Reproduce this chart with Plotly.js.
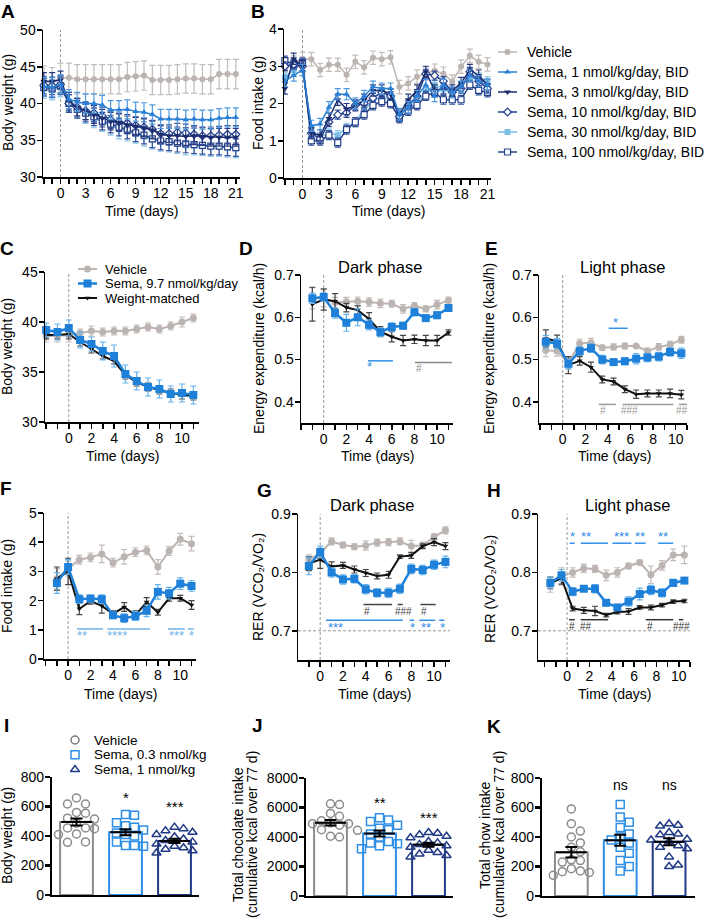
<!DOCTYPE html>
<html>
<head>
<meta charset="utf-8">
<script src="https://cdn.plot.ly/plotly-3.0.1.min.js"></script>
<style>
  body { margin: 0; background: #fff; }
  #chart { width: 705px; height: 920px; }
</style>
</head>
<body>
<div id="chart"></div>
<script>
// ---------- data ----------
// A / B: dose response, days -2..21
const daysAB = [-2,-1,0,1,2,3,4,5,6,7,8,9,10,11,12,13,14,15,16,17,18,19,20,21];
const bwVeh  = [43.1,42.9,43.5,43.5,43.3,43.3,43.3,43.3,43.3,43.3,43.6,43.7,43.8,43.2,43.2,43.2,43.3,43.4,43.4,43.3,43.3,44.0,44.0,44.0];
const bwS1   = [42.3,42.2,42.6,40.6,40.2,40.0,40.0,39.8,39.1,39.1,39.2,38.9,38.8,38.5,37.9,37.9,37.9,37.8,37.9,37.8,37.8,38.0,38.1,38.1];
const bwS3   = [43.0,43.0,43.2,40.3,39.5,39.0,38.5,38.0,37.6,37.4,37.1,36.9,36.7,36.4,35.8,35.6,35.6,35.5,35.6,35.5,35.4,35.4,35.4,35.4];
const bwS10  = [42.5,42.4,42.6,40.0,39.5,39.0,38.7,38.3,37.8,37.5,37.3,37.0,36.8,36.5,35.9,35.9,36.1,36.0,35.8,35.6,35.6,35.7,35.8,35.8];
const bwS30  = [42.0,41.8,42.2,40.2,39.3,38.6,38.0,37.5,37.0,36.5,36.2,35.9,35.5,35.1,34.8,34.7,34.5,34.3,34.3,34.2,34.1,34.1,34.0,33.9];
const bwS100 = [42.2,42.0,42.4,40.0,39.2,38.7,38.2,37.6,37.2,36.8,36.4,36.0,35.7,35.2,34.9,34.8,34.6,34.5,34.4,34.3,34.2,34.2,34.1,34.0];
const semA = { veh: 2.0, s1: 1.3, s3: 1.2, s10: 1.2, s30: 1.3, s100: 1.2 };

const fiVeh  = [2.9,3.1,3.2,3.19,2.9,3.04,3.04,2.77,3.12,2.97,3.23,3.19,3.24,2.44,2.54,2.72,2.81,2.88,2.8,2.59,2.99,3.28,3.12,3.05];
const fiS1   = [2.6,2.75,2.9,1.4,1.45,1.9,2.25,2.25,2.0,2.2,2.45,2.4,2.4,1.7,1.9,2.2,2.5,2.2,2.5,2.3,2.45,2.75,2.6,2.5];
const fiS3   = [2.4,3.2,3.0,1.2,1.15,1.6,2.1,1.85,1.95,2.1,2.35,2.35,2.25,1.7,2.1,2.35,2.85,2.35,2.4,2.35,2.55,2.9,2.75,2.5];
const fiS10  = [3.0,3.05,3.0,1.2,1.05,1.5,1.7,1.75,1.95,2.0,2.15,2.3,2.2,1.65,1.95,2.2,2.8,2.75,2.6,2.3,2.4,2.85,2.6,2.4];
const fiS30  = [2.7,2.9,3.1,1.3,1.1,1.2,1.15,1.35,1.5,1.85,2.05,2.2,2.1,1.75,1.85,2.0,2.3,2.5,2.4,2.25,2.45,2.7,2.7,2.6];
const fiS100 = [3.15,3.05,3.1,1.0,1.0,1.15,0.95,1.3,1.5,1.7,1.95,2.05,2.0,1.6,1.8,1.95,2.2,2.3,2.1,2.1,2.1,2.5,2.35,2.3];
const semB = { veh: 0.18, s1: 0.15, s3: 0.15, s10: 0.12, s30: 0.12, s100: 0.12 };

// C: body weight, days -2..11
const daysC = [-2,-1,0,1,2,3,4,5,6,7,8,9,10,11];
const cVeh  = [38.6,38.6,38.7,38.9,39.1,39.0,39.1,39.1,39.3,39.5,39.3,39.6,40.0,40.4];
const cSema = [39.2,39.0,39.4,38.2,37.8,37.1,36.6,34.8,34.1,33.5,33.3,32.8,32.9,32.7];
const cWM   = [38.7,38.7,38.8,38.0,37.3,36.6,36.1,34.7,34.0,33.5,33.2,32.9,32.7,32.6];
const cVehE  = [0.6,0.6,0.7,0.4,0.5,0.4,0.4,0.4,0.4,0.4,0.4,0.4,0.5,0.4];
const cSemaE = [0.7,0.8,0.8,0.8,0.7,0.9,1.1,0.9,0.9,0.9,0.9,0.8,0.9,0.9];
const cWME   = [0.4,0.4,0.5,0.4,0.4,0.3,0.3,0.4,0.4,0.4,0.4,0.4,0.4,0.4];

// D-H: dark phase at whole days, light phase at half days
const daysDark  = [-1,0,1,2,3,4,5,6,7,8,9,10,11];
const daysLight = [-1.5,-0.5,0.5,1.5,2.5,3.5,4.5,5.5,6.5,7.5,8.5,9.5,10.5];

const dVeh  = [0.645,0.645,0.635,0.637,0.638,0.636,0.633,0.632,0.620,0.627,0.620,0.630,0.640];
const dSema = [0.645,0.648,0.610,0.587,0.600,0.582,0.565,0.577,0.580,0.612,0.598,0.605,0.622];
const dWM   = [0.631,0.642,0.638,0.623,0.617,0.596,0.566,0.554,0.545,0.548,0.545,0.545,0.564];
const dVehE  = [0.025,0.02,0.012,0.01,0.01,0.01,0.01,0.008,0.01,0.008,0.007,0.01,0.008];
const dSemaE = [0.012,0.01,0.012,0.02,0.02,0.012,0.01,0.01,0.008,0.008,0.008,0.008,0.008];
const dWME   = [0.04,0.025,0.018,0.01,0.01,0.015,0.012,0.012,0.012,0.01,0.012,0.012,0.006];

const eVeh  = [0.522,0.520,0.492,0.538,0.540,0.528,0.530,0.532,0.532,0.520,0.530,0.535,0.547];
const eSema = [0.542,0.538,0.490,0.520,0.527,0.500,0.494,0.496,0.502,0.505,0.507,0.518,0.515];
const eWM   = [0.550,0.543,0.487,0.497,0.482,0.453,0.448,0.430,0.418,0.420,0.420,0.420,0.417];
const eVehE  = [0.015,0.012,0.012,0.01,0.01,0.006,0.007,0.007,0.003,0.007,0.008,0.008,0.008];
const eSemaE = [0.015,0.012,0.012,0.01,0.01,0.01,0.005,0.008,0.012,0.01,0.01,0.01,0.012];
const eWME   = [0.02,0.015,0.02,0.01,0.012,0.008,0.008,0.008,0.01,0.008,0.008,0.01,0.01];

const fVeh  = [2.75,3.10,3.40,3.48,3.60,3.30,3.50,3.66,3.72,3.15,3.70,4.10,3.95];
const fSema = [2.60,3.15,2.05,2.07,2.05,1.50,1.40,1.47,1.65,2.30,2.25,2.58,2.50];
const fWM   = [2.75,3.00,1.72,1.98,1.82,1.55,1.78,1.50,1.95,1.60,2.08,2.08,1.85];
const fVehE  = [0.35,0.25,0.15,0.15,0.3,0.15,0.25,0.15,0.15,0.25,0.15,0.2,0.25];
const fSemaE = [0.35,0.25,0.15,0.12,0.15,0.12,0.15,0.15,0.2,0.25,0.2,0.2,0.18];
const fWME   = [0.4,0.45,0.2,0.1,0.25,0.1,0.15,0.15,0.15,0.1,0.1,0.1,0.15];

const gVeh  = [0.822,0.833,0.853,0.847,0.844,0.846,0.851,0.852,0.853,0.845,0.846,0.861,0.872];
const gSema = [0.811,0.835,0.800,0.788,0.789,0.771,0.765,0.765,0.772,0.806,0.804,0.813,0.818];
const gWM   = [0.815,0.822,0.810,0.812,0.805,0.799,0.794,0.796,0.827,0.829,0.845,0.852,0.845];
const gVehE  = [0.008,0.008,0.006,0.005,0.005,0.008,0.006,0.006,0.006,0.01,0.006,0.005,0.006];
const gSemaE = [0.015,0.01,0.008,0.008,0.007,0.008,0.007,0.008,0.008,0.008,0.008,0.008,0.01];
const gWME   = [0.012,0.015,0.008,0.005,0.006,0.006,0.005,0.006,0.003,0.005,0.004,0.006,0.006];

const hVeh  = [0.778,0.793,0.800,0.807,0.806,0.795,0.800,0.811,0.817,0.796,0.812,0.830,0.830];
const hSema = [0.782,0.795,0.767,0.772,0.772,0.748,0.740,0.750,0.763,0.770,0.765,0.782,0.786];
const hWM   = [0.782,0.790,0.738,0.735,0.734,0.727,0.732,0.733,0.740,0.740,0.744,0.750,0.751];
const hVehE  = [0.012,0.015,0.008,0.007,0.006,0.009,0.008,0.005,0.004,0.015,0.008,0.01,0.015];
const hSemaE = [0.01,0.01,0.007,0.004,0.007,0.005,0.004,0.008,0.01,0.008,0.007,0.006,0.004];
const hWME   = [0.01,0.01,0.004,0.005,0.008,0.003,0.003,0.005,0.003,0.004,0.003,0.003,0.003];

// significance bars: [from, to, label x, label]
const sigDblue = [[3.9, 6.1, 4.0, "*"]];
const sigDgray = [[8.05, 11.3, 8.4, "#"]];
const sigEblue = [[4.07, 5.75, 4.66, "*"]];
const sigEgray = [[3.2, 4.7, 3.55, "#"], [5.3, 9.8, 5.9, "###"], [10.3, 11, 10.6, "##"]];
const sigFblue = [[0.8, 3.1, 1.25, "**"], [3.5, 7.3, 4.4, "****"], [8.9, 10.4, 9.7, "***"], [10.7, 11.2, 11.0, "*"]];
const sigGblack = [[3.8, 6.3, 4.1, "#"], [6.8, 7.25, 7.3, "###"], [8.8, 10.15, 9.1, "#"]];
const sigGblue  = [[0.5, 7.25, 1.3, "***"], [7.85, 8.25, 8.1, "*"], [8.7, 10.1, 9.3, "**"], [10.45, 10.9, 10.7, "*"]];
const sigHblue  = [[0.24, 0.69, 0.48, "*"], [1.22, 3.67, 1.73, "**"], [4.06, 5.76, 4.87, "***"], [6.06, 7.04, 6.5, "**"], [8.15, 9.5, 8.54, "**"]];
const sigHblack = [[0.18, 0.69, 0.48, "#"], [1.22, 3.67, 1.67, "##"], [7.04, 9.5, 7.4, "#"], [10.0, 10.4, 10.2, "###"]];

// I-K: individual animals
const iVeh = [658,617,617,560,555,521,515,487,450,455,455,414,410,357,360];
const iS03 = [545,540,490,470,460,440,420,410,400,360,335,335,330];
const iS1  = [460,450,435,425,410,395,380,370,360,345,330,320,310,300,290,285];
const jVeh = [6250,6200,5600,5400,5100,4950,4900,4900,4800,4500,4450,4400,4050,4000];
const jS03 = [5300,5150,5050,4800,4600,4500,4200,4000,3700,3600,3550,3400,3200];
const jS1  = [4300,4250,4150,4050,3950,3700,3600,3500,3400,3300,3200,3100,2950,2850,2750,2650];
const kVeh = [590,490,440,400,360,330,300,245,240,230,185,170,165,160,140];
const kS03 = [620,535,500,465,420,400,380,360,330,290,240,200,170];
const kS1  = [490,480,475,430,420,415,385,380,370,340,330,320,265,210,200];
const sigI = ["", "*", "***"], sigIy = [0, 663, 602];
const sigJ = ["", "**", "***"], sigJy = [0, 6370, 5355];
const sigK = ["", "ns", "ns"], sigKy = [0, 752, 752];

// ---------- figure ----------
const W = 705, H = 920;
const FONT = "Liberation Sans, Arial, sans-serif";
const data = [], shapes = [], annotations = [];
const layout = {
  width: W, height: H, margin: { l: 0, r: 0, t: 0, b: 0 },
  paper_bgcolor: "#fff", plot_bgcolor: "rgba(0,0,0,0)",
  font: { family: FONT, size: 14, color: "#000" },
  showlegend: false, barmode: "overlay", shapes, annotations
};

const GRAY = "#bcb4b1", BLUE = "#1e80d8", BLACK = "#111";
const ST = {
  veh:  { color: GRAY, symbol: "circle", size: 7, ecolor: "#c3bcb9", lw: 2 },
  sema: { color: BLUE, symbol: "square", size: 8, ecolor: "#62b0ea", lw: 2.5 },
  wm:   { color: BLACK, symbol: "triangle-down", size: 5, ecolor: "#444", lw: 2 },
  aVeh:  { color: GRAY, symbol: "circle", size: 6, ecolor: "#c3bcb9", lw: 1.5 },
  aS1:   { color: "#2b80d6", symbol: "triangle-up", size: 6, ecolor: "#4f9ae0", lw: 1.5 },
  aS3:   { color: "#1b2c6e", symbol: "triangle-down", size: 6, ecolor: "#2a3c80", lw: 1.5 },
  aS10:  { color: "#223f8e", symbol: "diamond", fill: "#fff", mlw: 1.2, size: 6, ecolor: "#34509c", lw: 1.5 },
  aS30:  { color: "#7dbee4", symbol: "square", size: 6, ecolor: "#8cc6e8", lw: 1.5 },
  aS100: { color: "#23408a", symbol: "square", fill: "#fff", mlw: 1.2, size: 6, ecolor: "#34509c", lw: 1.5 }
};

function sfx(id) { return id === 1 ? "" : String(id); }

function addAxes(id, box, xr, yr, xo, yo, lw) {
  const s = sfx(id), w = lw || 1.5;
  const common = {
    showline: true, linecolor: "#000", linewidth: w, showgrid: false, zeroline: false,
    ticks: "outside", ticklen: 5, tickwidth: w, tickcolor: "#000", fixedrange: true,
    tickfont: { size: 14 }
  };
  layout["xaxis" + s] = Object.assign({}, common,
    { domain: [box[0] / W, box[1] / W], range: xr, anchor: "y" + s, ticklabelstandoff: -2 }, xo);
  layout["yaxis" + s] = Object.assign({}, common,
    { domain: [1 - box[3] / H, 1 - box[2] / H], range: yr, anchor: "x" + s, ticklabelstandoff: -2 }, yo);
}

// labelled ticks every `step` days from 0, plain ticks on the other days
function dayTicks(from, to, step) {
  const major = [], minor = [];
  for (let v = from; v <= to; v++) {
    if (v >= 0 && v % step === 0) major.push(v); else minor.push(v);
  }
  return {
    tickmode: "array", tickvals: major, ticktext: major.map(String),
    minor: { tickmode: "array", tickvals: minor, ticks: "outside", ticklen: 5, tickwidth: 1.5, tickcolor: "#000" }
  };
}

function series(id, x, y, err, st) {
  const s = sfx(id);
  const errs = Array.isArray(err) ? err : y.map(() => err);
  data.push({
    type: "scatter", mode: "lines+markers", x, y, xaxis: "x" + s, yaxis: "y" + s,
    line: { color: st.color, width: st.lw },
    marker: { symbol: st.symbol, size: st.size, color: st.fill || st.color,
              line: { color: st.color, width: st.mlw || 0 } },
    error_y: { type: "data", array: errs, visible: true, color: st.ecolor, thickness: 1.2, width: 3 },
    cliponaxis: false, hoverinfo: "skip"
  });
}

function dayZero(id) {
  const s = sfx(id);
  shapes.push({ type: "line", xref: "x" + s, yref: "y" + s + " domain", x0: 0, x1: 0, y0: 0, y1: 1,
    line: { color: "#999", width: 1, dash: "3px,2px" }, layer: "below" });
}

function hDash(id, yv) {
  const s = sfx(id);
  shapes.push({ type: "line", xref: "x" + s + " domain", yref: "y" + s, x0: 0, x1: 1, y0: yv, y1: yv,
    line: { color: "#999", width: 1, dash: "3px,2px" }, layer: "below" });
}

function sigBars(id, items, color, ly, ty) {
  const s = sfx(id);
  items.forEach(([x0, x1, tx, t]) => {
    shapes.push({ type: "line", xref: "x" + s, yref: "y" + s, x0, x1, y0: ly, y1: ly,
      line: { color, width: 1.5 } });
    annotations.push({ xref: "x" + s, yref: "y" + s, x: tx, y: ty, text: t, showarrow: false,
      font: { size: t.includes("#") ? 10 : 13, color } });
  });
}

function txt(text, px, py, o) {
  annotations.push(Object.assign({
    xref: "paper", yref: "paper", x: px / W, y: 1 - py / H, text, showarrow: false,
    xanchor: "center", yanchor: "middle", font: { size: 14 }
  }, o || {}));
}

// ---- A ----
addAxes(1, [43, 240, 30, 177], [-2.1, 21.5], [30, 50], dayTicks(-2, 21, 3), { dtick: 5, tick0: 30 });
dayZero(1);
series(1, daysAB, bwVeh, semA.veh, ST.aVeh);
series(1, daysAB, bwS30, semA.s30, ST.aS30);
series(1, daysAB, bwS100, semA.s100, ST.aS100);
series(1, daysAB, bwS10, semA.s10, ST.aS10);
series(1, daysAB, bwS3, semA.s3, ST.aS3);
series(1, daysAB, bwS1, semA.s1, ST.aS1);

// ---- B ----
addAxes(2, [284, 491, 29, 178], [-2.1, 21.4], [0, 4], dayTicks(-2, 21, 3), { dtick: 1, tick0: 0 });
dayZero(2);
series(2, daysAB, fiVeh, semB.veh, ST.aVeh);
series(2, daysAB, fiS30, semB.s30, ST.aS30);
series(2, daysAB, fiS100, semB.s100, ST.aS100);
series(2, daysAB, fiS10, semB.s10, ST.aS10);
series(2, daysAB, fiS3, semB.s3, ST.aS3);
series(2, daysAB, fiS1, semB.s1, ST.aS1);

// ---- C ----
addAxes(3, [45, 199, 272, 422], [-2.1, 11.5], [30, 45], dayTicks(-2, 11, 2), { dtick: 5, tick0: 30 });
dayZero(3);
series(3, daysC, cVeh, cVehE, ST.veh);
series(3, daysC, cWM, cWME, ST.wm);
series(3, daysC, cSema, cSemaE, ST.sema);

// ---- D ----
const eeTicks = { tickmode: "array", tickvals: [0.4, 0.5, 0.6, 0.7] };
addAxes(4, [301, 453, 275, 423], [-2, 11.4], [0.35, 0.7], dayTicks(-2, 11, 2), eeTicks);
dayZero(4);
series(4, daysDark, dVeh, dVehE, ST.veh);
series(4, daysDark, dWM, dWME, ST.wm);
series(4, daysDark, dSema, dSemaE, ST.sema);
sigBars(4, sigDblue, "#2f8ee6", 0.497, 0.484);
sigBars(4, sigDgray, "#8a8a8a", 0.493, 0.478);

// ---- E ----
addAxes(5, [539, 687, 275, 423], [-2.1, 11], [0.35, 0.7], dayTicks(-2, 11, 2), eeTicks);
dayZero(5);
series(5, daysLight, eVeh, eVehE, ST.veh);
series(5, daysLight, eWM, eWME, ST.wm);
series(5, daysLight, eSema, eSemaE, ST.sema);
sigBars(5, sigEblue, "#2f8ee6", 0.574, 0.588);
sigBars(5, sigEgray, "#9a9a9a", 0.394, 0.379);

// ---- F ----
addAxes(6, [44, 196, 513, 659], [-2.15, 11.4], [0, 5], dayTicks(-2, 11, 2), { dtick: 1, tick0: 0 });
dayZero(6);
series(6, daysDark, fVeh, fVehE, ST.veh);
series(6, daysDark, fWM, fWME, ST.wm);
series(6, daysDark, fSema, fSemaE, ST.sema);
sigBars(6, sigFblue, "#6fb3ea", 1.03, 0.81);

// ---- G ----
const rerTicks = { tickmode: "array", tickvals: [0.7, 0.8, 0.9] };
addAxes(7, [298, 450, 514, 660], [-1.95, 11.4], [0.65, 0.9], dayTicks(-1, 11, 2), rerTicks);
dayZero(7);
hDash(7, 0.7);
series(7, daysDark, gVeh, gVehE, ST.veh);
series(7, daysDark, gWM, gWME, ST.wm);
series(7, daysDark, gSema, gSemaE, ST.sema);
sigBars(7, sigGblack, "#444", 0.745, 0.733);
sigBars(7, sigGblue, "#2f8ee6", 0.718, 0.706);

// ---- H ----
addAxes(8, [538, 690, 514, 660], [-2.6, 11], [0.65, 0.9], dayTicks(-2, 11, 2), rerTicks);
dayZero(8);
hDash(8, 0.7);
series(8, daysLight, hVeh, hVehE, ST.veh);
series(8, daysLight, hWM, hWME, ST.wm);
series(8, daysLight, hSema, hSemaE, ST.sema);
sigBars(8, sigHblue, "#2f8ee6", 0.85, 0.861);
sigBars(8, sigHblack, "#333", 0.719, 0.707);

// ---- I, J, K ----
const barStyle = [
  { color: "#8c8c8c", symbol: "circle-open" },
  { color: "#2f8fe6", symbol: "square-open" },
  { color: "#213a85", symbol: "triangle-up-open" }
];
const mean = (a) => a.reduce((s, v) => s + v, 0) / a.length;
const sem = (a) => {
  const m = mean(a);
  return Math.sqrt(a.reduce((s, v) => s + (v - m) * (v - m), 0) / (a.length - 1)) / Math.sqrt(a.length);
};

// simple beeswarm: offsets in px so that markers of diameter d do not overlap
function swarm(vals, pxPerUnit, d) {
  const order = vals.map((v, i) => i).sort((a, b) => vals[b] - vals[a]);
  const placed = [], off = new Array(vals.length).fill(0);
  order.forEach((i) => {
    const y = vals[i] * pxPerUnit;
    for (let k = 0; k < 30; k++) {
      const o = k === 0 ? 0 : (k % 2 ? 1 : -1) * Math.ceil(k / 2) * d;
      if (placed.every((p) => Math.hypot(p.x - o, p.y - y) >= d - 0.5)) {
        off[i] = o; placed.push({ x: o, y }); break;
      }
    }
  });
  return off;
}

function barPanel(id, groups, box, ymax, dtick, labels, labelY, xr) {
  const s = sfx(id);
  addAxes(id, box, xr, [0, ymax],
    { showticklabels: false, ticks: "" }, { dtick, tick0: 0 }, 2.2);
  const pxPerCat = (box[1] - box[0]) / (xr[1] - xr[0]);
  const pxPerUnit = (box[3] - box[2]) / ymax;
  data.push({
    type: "bar", x: [0, 1, 2], y: groups.map(mean), width: 0.67, xaxis: "x" + s, yaxis: "y" + s,
    marker: { color: "#fff", line: { color: barStyle.map((b) => b.color), width: 2 } },
    hoverinfo: "skip"
  });
  groups.forEach((g, k) => {
    const off = swarm(g, pxPerUnit, 9);
    data.push({
      type: "scatter", mode: "markers", x: off.map((o) => k + o / pxPerCat), y: g,
      xaxis: "x" + s, yaxis: "y" + s, cliponaxis: false, hoverinfo: "skip",
      marker: { symbol: barStyle[k].symbol, size: 8, color: barStyle[k].color,
                line: { width: 1.5, color: barStyle[k].color } }
    });
  });
  groups.forEach((g, k) => {
    data.push({
      type: "scatter", mode: "markers", x: [k], y: [mean(g)], xaxis: "x" + s, yaxis: "y" + s,
      cliponaxis: false, hoverinfo: "skip",
      marker: { symbol: "line-ew-open", size: 22, color: "#000", line: { width: 2, color: "#000" } },
      error_y: { type: "data", array: [sem(g)], color: "#000", thickness: 2, width: 6 }
    });
    if (labels[k]) {
      annotations.push({ xref: "x" + s, yref: "y" + s, x: k, y: labelY[k], text: labels[k],
        showarrow: false, font: { size: labels[k] === "ns" ? 14 : 15 } });
    }
  });
}

barPanel(9,  [iVeh, iS03, iS1], [52, 199, 777, 895], 800, 200, sigI, sigIy, [-0.5, 2.5]);
barPanel(10, [jVeh, jS03, jS1], [306, 453, 778, 896], 8000, 2000, sigJ, sigJy, [-0.5, 2.5]);
barPanel(11, [kVeh, kS03, kS1], [542, 695, 778, 896], 800, 200, sigK, sigKy, [-0.6, 2.53]);

// ---- legends (pixel overlay) ----
layout.xaxis12 = { domain: [0, 1], range: [0, W], visible: false, fixedrange: true, anchor: "y12" };
layout.yaxis12 = { domain: [0, 1], range: [H, 0], visible: false, fixedrange: true, anchor: "x12" };

function legendRow(x0, x1, y, st, label, fs, tx, size) {
  if (x1 > x0) {
    data.push({ type: "scatter", mode: "lines", x: [x0, x1], y: [y, y], xaxis: "x12", yaxis: "y12",
      line: { color: st.color, width: st.lw }, hoverinfo: "skip" });
  }
  data.push({ type: "scatter", mode: "markers", x: [(x0 + x1) / 2], y: [y], xaxis: "x12", yaxis: "y12",
    marker: { symbol: st.symbol, size: size || st.size, color: st.fill || st.color,
              line: { color: st.color, width: st.mlw || 0 } }, hoverinfo: "skip" });
  txt(label, tx, y, { xanchor: "left", font: { size: fs } });
}

const legAB = [
  [ST.aVeh, "Vehicle"],
  [ST.aS1, "Sema, 1 nmol/kg/day, BID"],
  [ST.aS3, "Sema, 3 nmol/kg/day, BID"],
  [ST.aS10, "Sema, 10 nmol/kg/day, BID"],
  [ST.aS30, "Sema, 30 nmol/kg/day, BID"],
  [ST.aS100, "Sema, 100 nmol/kg/day, BID"]
];
legAB.forEach(([st, label], i) => legendRow(498, 517, 52 + i * 20, st, label, 14, 525));

const legC = [[ST.veh, "Vehicle"], [ST.sema, "Sema, 9.7 nmol/kg/day"], [ST.wm, "Weight-matched"]];
legC.forEach(([st, label], i) => legendRow(78, 97, 269 + i * 14.5, st, label, 13, 103));

const legI = [
  [{ color: "#7a7a7a", symbol: "circle-open", mlw: 1.5 }, "Vehicle"],
  [{ color: "#2f8fe6", symbol: "square-open", mlw: 1.5 }, "Sema, 0.3 nmol/kg"],
  [{ color: "#213a85", symbol: "triangle-up-open", mlw: 1.5 }, "Sema, 1 nmol/kg"]
];
legI.forEach(([st, label], i) => legendRow(75, 75, 740 + i * 14.8, st, label, 13.5, 92, 8));

// ---- titles, axis labels, panel letters ----
txt("<b>A</b>", 8, 0, { yanchor: "top", borderpad: 0, font: { size: 19 } });
txt("<b>B</b>", 258, 0, { yanchor: "top", borderpad: 0, font: { size: 19 } });
[["C", 7, 248], ["D", 246, 249], ["E", 491, 248],
 ["F", 6, 488], ["G", 264, 490], ["H", 494, 490], ["I", 6, 725], ["J", 257, 725], ["K", 494, 726]]
  .forEach(([t, x, y]) => txt("<b>" + t + "</b>", x, y, { font: { size: 19 } }));

[[141, 211], [388, 211], [122, 456], [377, 456], [614, 456], [120, 694], [374, 694], [614, 694]]
  .forEach(([x, y]) => txt("Time (days)", x, y));

const rot = { textangle: -90 };
txt("Body weight (g)", 8, 103, rot);
txt("Food intake (g)", 258, 103, rot);
txt("Body weight (g)", 7, 347, rot);
txt("Energy expenditure (kcal/h)", 259, 349, rot);
txt("Energy expenditure (kcal/h)", 489, 349, rot);
txt("Food intake (g)", 7, 586, rot);
txt("RER (VCO\u2082/VO\u2082)", 258, 587, rot);
txt("RER (VCO\u2082/VO\u2082)", 490, 589, rot);
txt("Body weight (g)", 7, 836, rot);
txt("Total chocolate intake", 238, 835, rot);
txt("(cumulative kcal over 77 d)", 252, 835, rot);
txt("Total chow intake", 485, 835, rot);
txt("(cumulative kcal over 77 d)", 499, 835, rot);

txt("Dark phase", 380, 267, { font: { size: 16.5 } });
txt("Light phase", 622, 267, { font: { size: 16.5 } });
txt("Dark phase", 372, 505, { font: { size: 16.5 } });
txt("Light phase", 627, 505, { font: { size: 16.5 } });

Plotly.newPlot("chart", data, layout, { staticPlot: true });
</script>
</body>
</html>
